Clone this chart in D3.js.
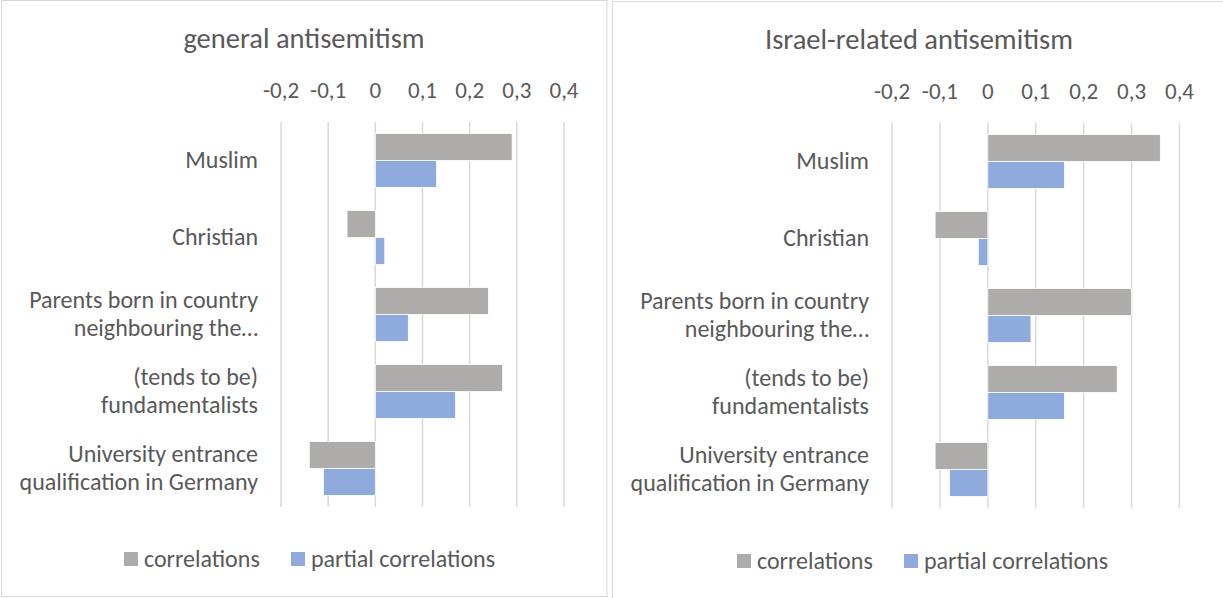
<!DOCTYPE html>
<html lang="en">
<head>
<meta charset="utf-8">
<title>Antisemitism correlations</title>
<script src="https://cdn.jsdelivr.net/npm/d3@7"></script>
<style>
  body { margin: 0; background: #fff; }
  svg text { font-family: Carlito, Lato, "Open Sans", sans-serif; fill: #595959; }
</style>
</head>
<body>
<script>
// ---------- data ----------
var categories = [
  ["Muslim"],
  ["Christian"],
  ["Parents born in country", "neighbouring the…"],
  ["(tends to be)", "fundamentalists"],
  ["University entrance", "qualification in Germany"]
];
var seriesNames = ["correlations", "partial correlations"];
var seriesColors = ["#aeabab", "#8faadc"];

var generalCorr    = [0.29, -0.06, 0.24, 0.27, -0.14];
var generalPartial = [0.13,  0.02, 0.07, 0.17, -0.11];
var israelCorr     = [0.36, -0.11, 0.30, 0.27, -0.11];
var israelPartial  = [0.16, -0.02, 0.09, 0.16, -0.08];

var tickValues = [-0.2, -0.1, 0, 0.1, 0.2, 0.3, 0.4];
var tickLabels = ["-0,2", "-0,1", "0", "0,1", "0,2", "0,3", "0,4"];

// ---------- layout ----------
var W = 1223, H = 598;
var svg = d3.select("body").append("svg").attr("width", W).attr("height", H);

var panels = [
  { title: "general antisemitism", corr: generalCorr, partial: generalPartial,
    box: [1.5, 0.5, 605.5, 596], titleX: 304, titleY: 48,
    x0: 281, x1: 564, y0: 122, y1: 507, tickY: 98, labelX: 258,
    legY: 559, legX: [124, 291] },
  { title: "Israel-related antisemitism", corr: israelCorr, partial: israelPartial,
    box: [612.5, 1.5, 620, 610], titleX: 919, titleY: 49,
    x0: 892, x1: 1179.5, y0: 123, y1: 508, tickY: 99, labelX: 869,
    legY: 561, legX: [737, 904] }
];

panels.forEach(function(p) {
  var g = svg.append("g");

  g.append("rect")
    .attr("x", p.box[0]).attr("y", p.box[1])
    .attr("width", p.box[2]).attr("height", p.box[3])
    .attr("fill", "#fff").attr("stroke", "#d9d9d9").attr("stroke-width", 1);

  g.append("text")
    .attr("x", p.titleX).attr("y", p.titleY)
    .attr("text-anchor", "middle")
    .style("font-size", "28.5px")
    .text(p.title);

  var x = d3.scaleLinear().domain([-0.2, 0.4]).range([p.x0, p.x1]);
  var y = d3.scaleBand().domain(d3.range(categories.length))
    .range([p.y0, p.y1]).paddingInner(0.3).paddingOuter(0.15);
  var sub = d3.scaleBand().domain([0, 1]).range([0, y.bandwidth()]);

  // gridlines
  g.selectAll(".grid").data(tickValues).enter().append("line")
    .attr("x1", function(d) { return x(d); })
    .attr("x2", function(d) { return x(d); })
    .attr("y1", p.y0).attr("y2", p.y1)
    .attr("stroke", "#d9d9d9").attr("stroke-width", 1.5);

  // tick labels on top
  g.selectAll(".tick").data(tickValues).enter().append("text")
    .attr("x", function(d) { return x(d); })
    .attr("y", p.tickY)
    .attr("text-anchor", "middle")
    .style("font-size", "23px")
    .text(function(d, i) { return tickLabels[i]; });

  // bars
  [p.corr, p.partial].forEach(function(vals, s) {
    g.selectAll(".bar" + s).data(vals).enter().append("rect")
      .attr("x", function(d) { return Math.min(x(0), x(d)); })
      .attr("width", function(d) { return Math.abs(x(d) - x(0)); })
      .attr("y", function(d, i) { return y(i) + sub(s); })
      .attr("height", sub.bandwidth())
      .attr("fill", seriesColors[s])
      .attr("stroke", "#fff").attr("stroke-width", 0.8);
  });

  // category labels
  categories.forEach(function(lines, i) {
    var cy = y(i) + y.bandwidth() / 2;
    var t = g.append("text")
      .attr("text-anchor", "end")
      .style("font-size", "24px");
    lines.forEach(function(line, k) {
      t.append("tspan")
        .attr("x", p.labelX)
        .attr("y", cy + 7 + (k - (lines.length - 1) / 2) * 28)
        .text(line);
    });
  });

  // legend
  seriesNames.forEach(function(name, s) {
    g.append("rect")
      .attr("x", p.legX[s]).attr("y", p.legY - 7)
      .attr("width", 14).attr("height", 14)
      .attr("fill", seriesColors[s]);
    g.append("text")
      .attr("x", p.legX[s] + 20).attr("y", p.legY + 8)
      .style("font-size", "24px")
      .text(name);
  });
});
</script>
</body>
</html>
